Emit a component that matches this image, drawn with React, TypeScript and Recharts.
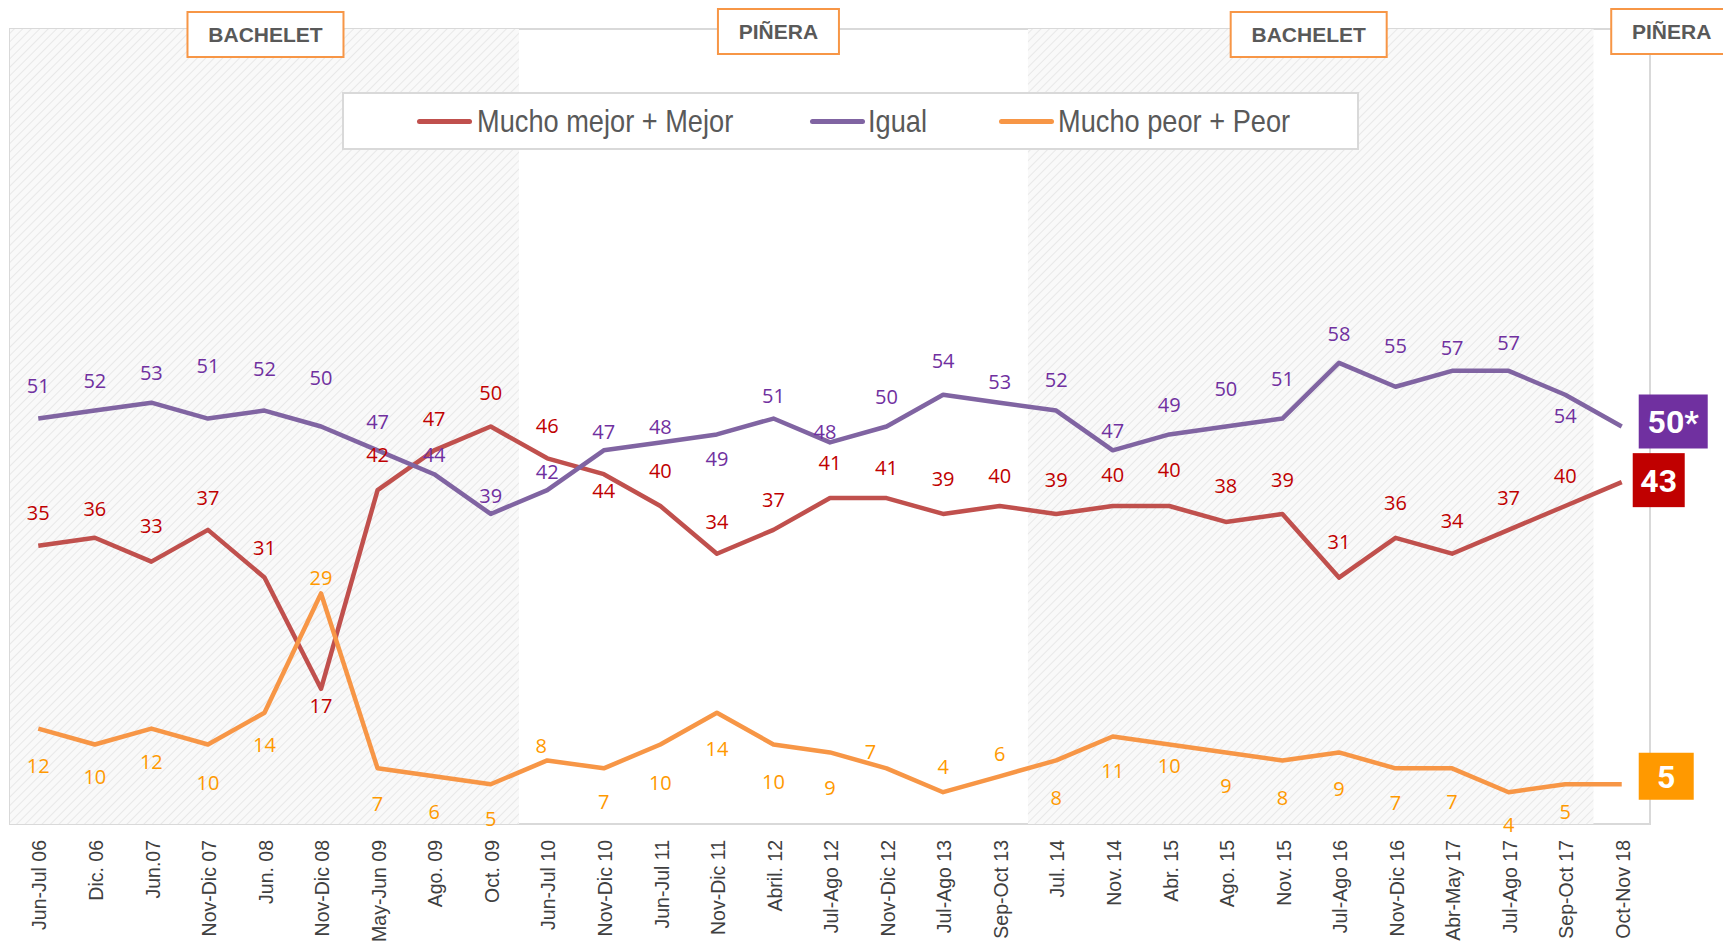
import React from 'react';
import { LineChart, Line, XAxis, YAxis, ReferenceArea, Legend, LabelList } from 'recharts';

// Evaluación de la situación económica del país (CEP), 2006-2018
const periods = [
  'Jun-Jul 06', 'Dic. 06', 'Jun.07', 'Nov-Dic 07', 'Jun. 08', 'Nov-Dic 08', 'May-Jun 09', 'Ago. 09', 'Oct. 09',
  'Jun-Jul 10', 'Nov-Dic 10', 'Jun-Jul 11', 'Nov-Dic 11', 'Abril. 12', 'Jul-Ago 12', 'Nov-Dic 12', 'Jul-Ago 13', 'Sep-Oct 13',
  'Jul. 14', 'Nov. 14', 'Abr. 15', 'Ago. 15', 'Nov. 15', 'Jul-Ago 16', 'Nov-Dic 16', 'Abr-May 17', 'Jul-Ago 17', 'Sep-Oct 17',
  'Oct-Nov 18',
];

const mejor = [35, 36, 33, 37, 31, 17, 42, 47, 50, 46, 44, 40, 34, 37, 41, 41, 39, 40, 39, 40, 40, 38, 39, 31, 36, 34, 37, 40, 43];
const igual = [51, 52, 53, 51, 52, 50, 47, 44, 39, 42, 47, 48, 49, 51, 48, 50, 54, 53, 52, 47, 49, 50, 51, 58, 55, 57, 57, 54, 50];
const peor = [12, 10, 12, 10, 14, 29, 7, 6, 5, 8, 7, 10, 14, 10, 9, 7, 4, 6, 8, 11, 10, 9, 8, 9, 7, 7, 4, 5, 5];

const seriesOrder = ['mejor', 'igual', 'peor'];

// last value of "Igual" carries a footnote mark
const lastNote: Record<string, string> = { igual: '*' };

// governments, by first/last survey index
const governments = [
  { name: 'BACHELET', first: 0, last: 8 },
  { name: 'PIÑERA', first: 9, last: 17 },
  { name: 'BACHELET', first: 18, last: 27 },
  { name: 'PIÑERA', first: 28, last: 28 },
];

const rows = periods.map((period, i) => ({
  period,
  pos: i + 0.5,
  mejor: mejor[i],
  igual: igual[i],
  peor: peor[i],
}));

const boundaries = periods.map((_, i) => i).concat(periods.length);

// label placement (px from point), kept apart from the data
const mejorDy = [-33, -29, -36, -32, -30, 17, -35, -31, -34, -32, 17, -35, -32, -30, -35, -30, -35, -30, -34, -31, -36, -36, -34, -36, -35, -33, -32, -30, 0];
const igualDy = [-33, -30, -30, -53, -42, -49, -28, -19, -18, -18, -18, -15, 25, -23, -10, -30, -34, -21, -31, -19, -29, -38, -40, -29, -41, -23, -28, 21, 0];
const peorDy = [37, 32, 33, 38, 32, -15, 36, 36, 35, -14, 34, 38, 36, 37, 36, -16, -25, -22, 38, 34, 21, 34, 38, 37, 35, 34, 33, 28, 0];
const igualDx: Record<number, number> = { 14: -5 };
const peorDx: Record<number, number> = { 9: -6, 15: -16 };

const badges: Record<string, { fill: string; left: number; w: number; h: number; dy: number }> = {
  mejor: { fill: '#C00000', left: 11, w: 52, h: 54, dy: -2 },
  igual: { fill: '#7030A0', left: 17, w: 69, h: 54, dy: -5 },
  peor: { fill: '#FF9900', left: 17, w: 55, h: 47, dy: -8 },
};

const govBoxes = [
  { w: 156, top: 12, shift: 1 },
  { w: 121, top: 9, shift: 5 },
  { w: 156, top: 12, shift: -2 },
  { w: 121, top: 9, shift: 50 },
];

// legend slots (marker / text left edge inside the legend box)
const legendSlots = [
  { marker: 73, text: 133 },
  { marker: 466, text: 524 },
  { marker: 655, text: 714 },
];

const LABEL_FONT = "'Open Sans', 'Noto Sans', sans-serif";
const AXIS_FONT = "'Liberation Sans', Arial, sans-serif";

const makeLabel = (key: string, color: string, dys: number[], dxs: Record<number, number>) => (props: any) => {
  const vb = props.viewBox || {};
  const px = vb.x ?? props.x;
  const py = vb.y ?? props.y;
  const index = props.index;
  if (px == null || py == null) return null;
  if (index === periods.length - 1) {
    const b = badges[key];
    const cy = py + b.dy;
    return (
      <g>
        <rect x={px + b.left} y={cy - b.h / 2} width={b.w} height={b.h} fill={b.fill} />
        <text
          x={px + b.left + b.w / 2}
          y={cy + 11.5}
          textAnchor="middle"
          fill="#fff"
          fontFamily="Roboto, sans-serif"
          fontWeight={700}
          fontSize={32}
        >
          {props.value}
          {lastNote[key] || ''}
        </text>
      </g>
    );
  }
  return (
    <text
      x={px + (dxs[index] || 0)}
      y={py + dys[index] + 7}
      textAnchor="middle"
      fill={color}
      fontFamily={LABEL_FONT}
      fontSize={20}
    >
      {props.value}
    </text>
  );
};

const PeriodTick = (props: any) => {
  const { x, y, payload } = props;
  return (
    <text
      transform={`translate(${x},${y + 16}) rotate(-90)`}
      textAnchor="end"
      dy="0.42em"
      fill="#404040"
      fontFamily={AXIS_FONT}
      fontSize={19.5}
    >
      {payload.value}
    </text>
  );
};

const GovLabel = (props: any) => {
  const { viewBox, name, box } = props;
  if (!viewBox) return null;
  const cx = viewBox.x + viewBox.width / 2 + box.shift;
  return (
    <g>
      <rect x={cx - box.w / 2} y={box.top} width={box.w} height={45} fill="#fff" stroke="#F79646" strokeWidth={2} />
      <text
        x={cx}
        y={box.top + 30}
        textAnchor="middle"
        fill="#595959"
        fontFamily={AXIS_FONT}
        fontWeight="bold"
        fontSize={21}
      >
        {name}
      </text>
    </g>
  );
};

const renderLegend = (props: any) => {
  const payload = [...(props.payload || [])].sort(
    (a: any, b: any) => seriesOrder.indexOf(a.dataKey) - seriesOrder.indexOf(b.dataKey),
  );
  return (
    <div
      style={{
        position: 'relative',
        width: 1017,
        height: 58,
        boxSizing: 'border-box',
        border: '2px solid #D9D9D9',
        background: '#fff',
        fontFamily: AXIS_FONT,
        fontSize: 32,
        lineHeight: '32px',
        color: '#595959',
        whiteSpace: 'nowrap',
      }}
    >
      {payload.map((entry: any, i: number) => (
        <React.Fragment key={entry.dataKey}>
          <span
            style={{
              position: 'absolute',
              left: legendSlots[i].marker,
              top: 24.5,
              width: 55,
              height: 5,
              borderRadius: 3,
              background: entry.color,
            }}
          />
          <span
            style={{
              position: 'absolute',
              left: legendSlots[i].text,
              top: 11,
              transform: 'scaleX(0.85)',
              transformOrigin: 'left center',
            }}
          >
            {entry.value}
          </span>
        </React.Fragment>
      ))}
    </div>
  );
};

export default function App() {
  return (
    <div style={{ width: 1723, height: 942, background: '#fff' }}>
      <style>{'body{margin:0;}'}</style>
      <LineChart width={1723} height={942} data={rows} margin={{ top: 29, right: 73, bottom: 0, left: 10 }}>
        <defs>
          <pattern id="hatch" width="6" height="6" patternUnits="userSpaceOnUse" patternTransform="rotate(45)">
            <rect width="6" height="6" fill="#F9F9F9" />
            <line x1="0" y1="0" x2="0" y2="6" stroke="#E8E8E8" strokeWidth="2" />
          </pattern>
        </defs>
        <XAxis
          xAxisId="num"
          type="number"
          dataKey="pos"
          domain={[0, periods.length]}
          ticks={boundaries}
          tickFormatter={() => ''}
          tickSize={8}
          height={0}
          axisLine={{ stroke: '#BFBFBF', strokeWidth: 2.5 }}
          tickLine={{ stroke: '#BFBFBF', strokeWidth: 2 }}
        />
        <XAxis
          xAxisId="cat"
          dataKey="period"
          type="category"
          scale="band"
          interval={0}
          height={118}
          axisLine={false}
          tickLine={false}
          tickSize={0}
          tickMargin={0}
          tick={<PeriodTick />}
        />
        <YAxis hide domain={[0, 100]} />
        <ReferenceArea
          xAxisId="num"
          x1={0}
          x2={periods.length}
          y1={0}
          y2={100}
          fill="none"
          fillOpacity={0}
          stroke="#D9D9D9"
          strokeWidth={2}
        />
        {governments.map((g, i) => (
          <ReferenceArea
            key={`gov-${i}`}
            xAxisId="num"
            x1={g.first}
            x2={g.last + 1}
            y1={0}
            y2={100}
            fill={g.name === 'BACHELET' ? 'url(#hatch)' : 'none'}
            fillOpacity={1}
            stroke="none"
            label={<GovLabel name={g.name} box={govBoxes[i]} />}
          />
        ))}
        <Legend
          layout="horizontal"
          verticalAlign="middle"
          align="center"
          content={renderLegend}
          wrapperStyle={{ top: 92, left: 342, width: 1017, height: 58 }}
        />
        <Line
          xAxisId="num"
          dataKey="mejor"
          name="Mucho mejor + Mejor"
          stroke="#C0504D"
          strokeWidth={4.5}
          strokeLinejoin="round"
          dot={false}
          isAnimationActive={false}
        >
          <LabelList dataKey="mejor" content={makeLabel('mejor', '#C00000', mejorDy, {})} />
        </Line>
        <Line
          xAxisId="num"
          dataKey="igual"
          name="Igual"
          stroke="#8064A2"
          strokeWidth={4.5}
          strokeLinejoin="round"
          dot={false}
          isAnimationActive={false}
        >
          <LabelList dataKey="igual" content={makeLabel('igual', '#7030A0', igualDy, igualDx)} />
        </Line>
        <Line
          xAxisId="num"
          dataKey="peor"
          name="Mucho peor + Peor"
          stroke="#F79646"
          strokeWidth={4.5}
          strokeLinejoin="round"
          dot={false}
          isAnimationActive={false}
        >
          <LabelList dataKey="peor" content={makeLabel('peor', '#FF9900', peorDy, peorDx)} />
        </Line>
      </LineChart>
    </div>
  );
}
